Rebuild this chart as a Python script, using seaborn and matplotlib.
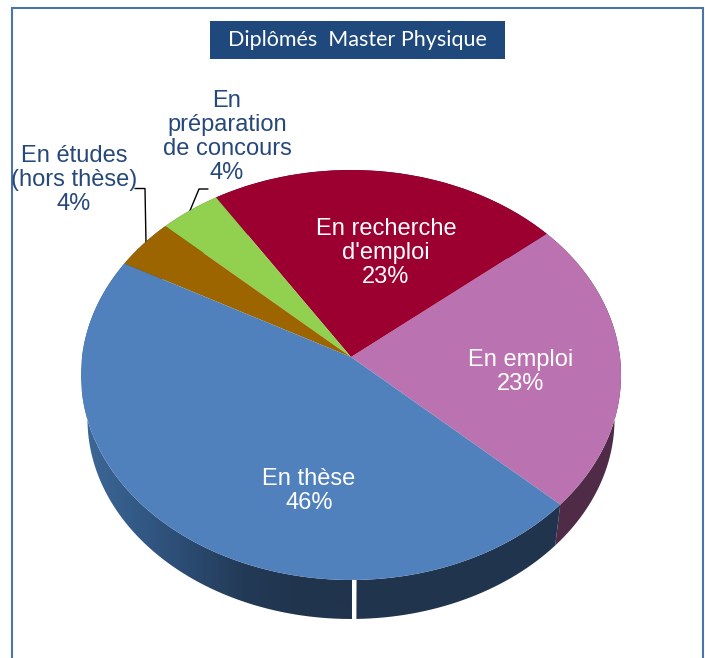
import numpy as np
import matplotlib
matplotlib.use("Agg")
import matplotlib.pyplot as plt
import seaborn as sns
from matplotlib.transforms import Transform
from matplotlib.patches import Polygon, Rectangle
from matplotlib.colors import LinearSegmentedColormap
from matplotlib import font_manager as fm

categories = ["En emploi", "En recherche\nd'emploi", "En\npréparation\nde concours", "En études\n(hors thèse)", "En thèse"]
values = [23, 23, 4, 4, 46]
percent_labels = ["23%", "23%", "4%", "4%", "46%"]
title = "Diplômés  Master Physique"

top_colors = ["#bb72b0", "#9b0031", "#92d050", "#9c6500", "#5081bd"]
side_colors = ["#4f2b48", "#5a001d", "#55792e", "#5a3a00", "#20344d"]
label_colors = ["white", "white", "#26487a", "#26487a", "white"]
label_pos = [(521, 372), (386, 253), (227, 137), (74, 180), (309, 491)]

sns.set_theme(style="white")
names = {f.name for f in fm.fontManager.ttflist}
print(sorted(n for n in names if "Liberation" in n))
text_family = ["Liberation Sans Narrow", "Liberation Sans"] if "Liberation Sans Narrow" in names else ["Liberation Sans"]


class Tilt(Transform):
    """Perspective view of the unit disc, in pixels around an apex."""
    input_dims = 2
    output_dims = 2
    is_affine = False
    has_inverse = False

    def __init__(self, cx, cy, ax_, ay_, a):
        super().__init__()
        self.p = (cx, cy, ax_, ay_, a)

    def transform_non_affine(self, values):
        cx, cy, ax_, ay_, a = self.p
        v = np.asarray(values, float)
        w = 1 + a * v[:, 1]
        return np.column_stack([cx + ax_ * v[:, 0] / w, cy - ay_ * v[:, 1] / w])


fig = plt.figure(figsize=(7.05, 6.58), dpi=100)
ax = fig.add_axes([0, 0, 1, 1])
top = Tilt(351, 357, 269, 203.4, 0.0878)
low = Tilt(351, 401.6, 262.5, 198.3, 0.0878)

wedges, _ = ax.pie(values, startangle=-43, counterclock=True, colors=top_colors,
                   wedgeprops=dict(linewidth=0, zorder=5))
for w in wedges:
    w.set_transform(top + ax.transData)

ax.set_aspect("auto")
ax.set_xlim(0, 705)
ax.set_ylim(658, 0)
ax.axis("off")

grad = LinearSegmentedColormap.from_list("side", ["#3f6897", "#335a86", "#2b4a70", "#233a57", "#20344d", "#20344d"])
for w, c in zip(wedges, side_colors):
    th = np.radians(np.linspace(w.theta1, w.theta2, 120))
    unit = np.column_stack([np.cos(th), np.sin(th)])
    band = np.vstack([top.transform_non_affine(unit), low.transform_non_affine(unit)[::-1]])
    poly = Polygon(band, closed=True, facecolor=c, edgecolor="none", zorder=2)
    ax.add_patch(poly)
    if w is wedges[-1]:
        poly.set_facecolor("none")
        im = ax.imshow(np.linspace(0, 1, 256)[None, :], cmap=grad, aspect="auto",
                       extent=(82, 352, 658, 0), zorder=2)
        im.set_clip_path(poly)
        fill = Polygon(band[band[:, 0] > 340], closed=False)
        right = band[:, 0] >= 351
        ax.add_patch(Polygon(np.vstack([top.transform_non_affine(unit[top.transform_non_affine(unit)[:, 0] >= 351]),
                                        low.transform_non_affine(unit[low.transform_non_affine(unit)[:, 0] >= 351])[::-1]]),
                             closed=True, facecolor=c, edgecolor="none", zorder=2))
ax.set_xlim(0, 705)
ax.set_ylim(658, 0)

# frame and title box
ax.plot([12, 12, 703, 703], [658, 8, 8, 658], color="#4a74aa", lw=1.5, zorder=1, solid_joinstyle="miter")
ax.add_patch(Rectangle((210, 21), 295, 38, facecolor="#1f497d", edgecolor="none", zorder=6))
ax.text(357.5, 40, title, color="white", family="Lato", fontsize=15.5, ha="center", va="center", zorder=7)

# labels
for cat, pct, col, (x, y) in zip(categories, percent_labels, label_colors, label_pos):
    ax.text(x, y, cat + "\n" + pct, color=col, family=text_family, fontsize=17, ha="center",
            va="center", linespacing=1.1, zorder=8)

# leader lines
ax.plot([135, 145, 146], [188.5, 188.5, 243], color="black", lw=1, zorder=4)
ax.plot([208, 199, 189], [189, 189, 213], color="black", lw=1, zorder=4)

fig.savefig("out.png", dpi=100, facecolor="white")
